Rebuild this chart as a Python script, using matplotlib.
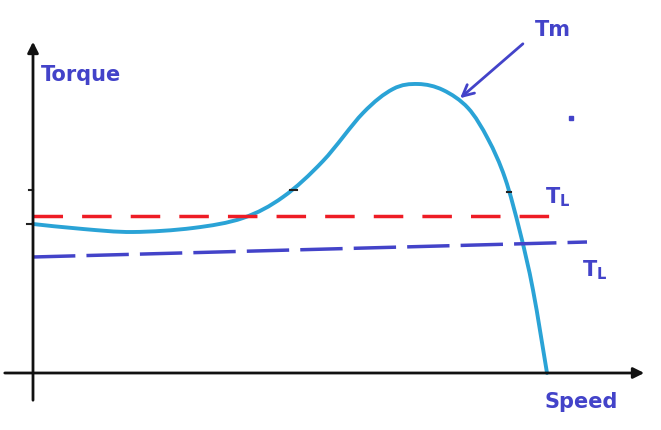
import matplotlib
matplotlib.use("Agg")
from matplotlib import pyplot as plt
from matplotlib.path import Path
from matplotlib.patches import PathPatch

# torque-speed curve (arbitrary units, origin where the axes cross)
speed = [0, 50, 100, 160, 210, 250, 290, 330, 360, 385, 410, 435, 455,
         472, 487, 500, 514]
torque = [149, 144, 141, 145, 155, 176, 212, 260, 284, 289, 283, 265, 234,
          195, 141, 83, 0]

# load torque lines
tl_red_x = [0, 522]
tl_red_y = [157, 157]
tl_blue_x = [0, 554]
tl_blue_y = [116, 131]

# small tick marks on the sketch
tick_x = [[-4, 0], [-6, 0], [257, 264], [474, 478]]
tick_y = [[183, 183], [149, 149], [183, 183], [181, 181]]

curve_col = '#2AA3D6'
red = '#EE1C25'
blue = '#4343C9'


def smooth_path(xs, ys):
    # bezier segments through the points (catmull-rom tangents)
    pts = list(zip(xs, ys))
    verts = [pts[0]]
    codes = [Path.MOVETO]
    for i in range(len(pts) - 1):
        p0 = pts[max(i - 1, 0)]
        p1 = pts[i]
        p2 = pts[i + 1]
        p3 = pts[min(i + 2, len(pts) - 1)]
        c1 = (p1[0] + (p2[0] - p0[0]) / 6, p1[1] + (p2[1] - p0[1]) / 6)
        c2 = (p2[0] - (p3[0] - p1[0]) / 6, p2[1] - (p3[1] - p1[1]) / 6)
        verts += [c1, c2, p2]
        codes += [Path.CURVE4] * 3
    return Path(verts, codes)


fig = plt.figure(figsize=(6.61, 4.30), dpi=100)
ax = fig.add_axes([0, 0, 1, 1])
ax.set_xlim(-33, 628)
ax.set_ylim(-57, 373)
ax.axis('off')

# axes with arrows
ax.annotate('', xy=(0, 334), xytext=(0, -30),
            arrowprops=dict(arrowstyle='-|>', lw=2, color='#111111', mutation_scale=16))
ax.annotate('', xy=(614, 0), xytext=(-31, 0),
            arrowprops=dict(arrowstyle='-|>', lw=2, color='#111111', mutation_scale=16))

for tx, ty in zip(tick_x, tick_y):
    ax.plot(tx, ty, color='#222222', lw=1.5)

# load lines
ax.plot(tl_red_x, tl_red_y, color=red, lw=2.5, dashes=(8.5, 5.5))
ax.plot(tl_blue_x, tl_blue_y, color=blue, lw=2.5, dashes=(12.2, 3.2))

# motor torque curve
ax.add_patch(PathPatch(smooth_path(speed, torque), fill=False, edgecolor=curve_col,
                       lw=2.8, capstyle='round', joinstyle='round'))

# labels
font = dict(color=blue, fontsize=15, fontweight='bold', family='DejaVu Sans')
ax.text(8, 298, 'Torque', ha='left', va='center', **font)
ax.text(512, -29, 'Speed', ha='left', va='center', **font)
ax.text(502, 343, 'Tm', ha='left', va='center', **font)
ax.text(512, 176, r'$\mathbf{T_L}$', ha='left', va='center', **font)
ax.text(549, 103, r'$\mathbf{T_L}$', ha='left', va='center', **font)

# arrow pointing at the max torque
ax.annotate('', xy=(425, 273), xytext=(492, 331),
            arrowprops=dict(arrowstyle='->', lw=2, color=blue, mutation_scale=20))
ax.plot([538], [255], marker='s', ms=2.5, color=blue)

plt.savefig('out.png', dpi=100)
